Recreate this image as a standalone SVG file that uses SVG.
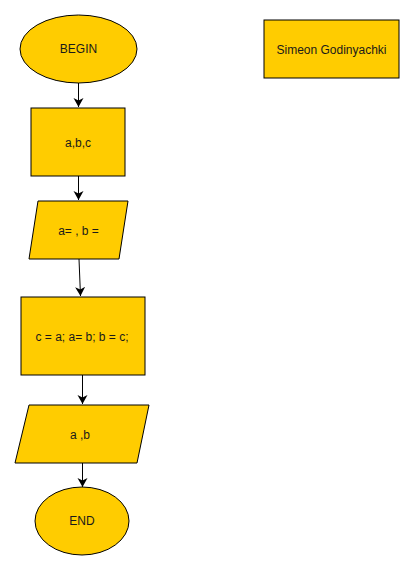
<svg xmlns="http://www.w3.org/2000/svg" width="413" height="570" viewBox="0 0 413 570">
<style>
.s{fill:#FFCC00;stroke:#000;stroke-width:1}
.t{font-family:"Liberation Sans",Arial,sans-serif;font-size:12px;fill:#1a1a1a;text-anchor:middle;dominant-baseline:central}
.c{fill:none;stroke:#000;stroke-width:1}
</style>
<defs>
<marker id="a" markerWidth="10" markerHeight="12" refX="9" refY="6" orient="auto" markerUnits="userSpaceOnUse">
<path d="M0,1 L9,6 L0,11 L2.5,6 Z" fill="#000"/>
</marker>
</defs>
<rect width="413" height="570" fill="#fff"/>
<g id="connectors">
<line class="c" x1="78.5" y1="83" x2="78.5" y2="107" marker-end="url(#a)"/>
<line class="c" x1="78.5" y1="176" x2="78.5" y2="200" marker-end="url(#a)"/>
<line class="c" x1="79" y1="259" x2="80.5" y2="296" marker-end="url(#a)"/>
<line class="c" x1="82.5" y1="375" x2="82.5" y2="404" marker-end="url(#a)"/>
<line class="c" x1="82.5" y1="463" x2="82.5" y2="487" marker-end="url(#a)"/>
</g>
<g id="begin">
<ellipse class="s" cx="78.5" cy="49" rx="58.5" ry="34"/>
<text class="t" x="78.5" y="49">BEGIN</text>
</g>
<g id="input">
<rect class="s" x="31" y="108" width="94" height="68"/>
<text class="t" x="78" y="143">a,b,c</text>
</g>
<g id="output1">
<polygon class="s" points="38,201 128,201 119,259 29,259"/>
<text class="t" x="78.5" y="231">a= , b =</text>
</g>
<g id="swap">
<rect class="s" x="21" y="297" width="124" height="78"/>
<text class="t" x="82" y="337">c = a; a= b; b = c;</text>
</g>
<g id="output2">
<polygon class="s" points="29,405 149,405 137,463 15,463"/>
<text class="t" x="80" y="435">a ,b</text>
</g>
<g id="end">
<ellipse class="s" cx="82" cy="521" rx="47" ry="34"/>
<text class="t" x="82" y="521">END</text>
</g>
<g id="author">
<rect class="s" x="264" y="20" width="135" height="58"/>
<text class="t" x="331.5" y="50">Simeon Godinyachki</text>
</g>
</svg>
